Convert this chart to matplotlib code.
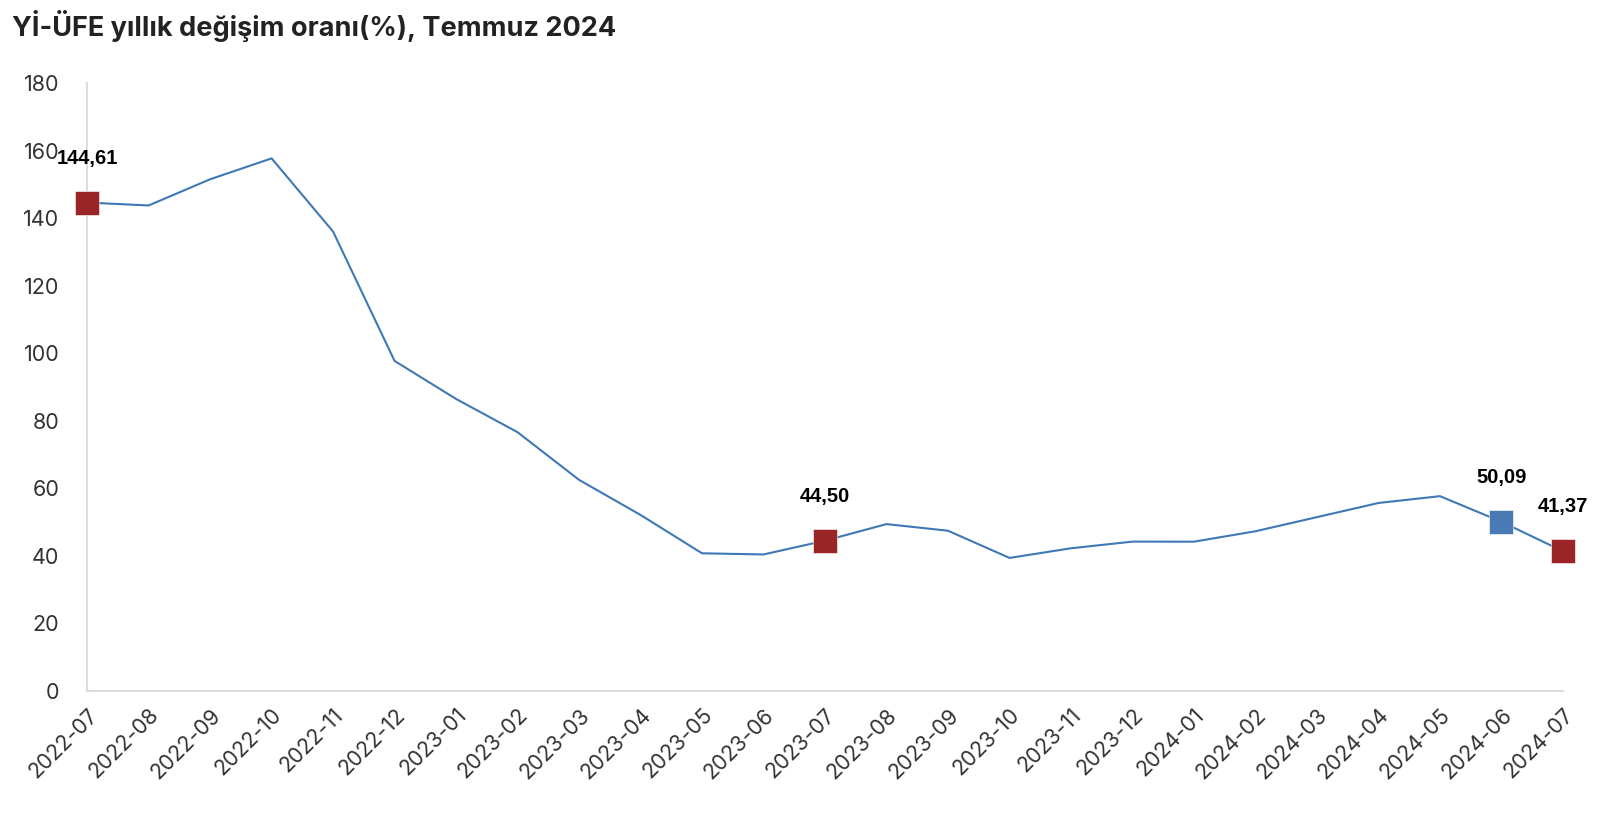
import matplotlib
matplotlib.use("Agg")
import matplotlib.pyplot as plt

months = [
    "2022-07", "2022-08", "2022-09", "2022-10", "2022-11", "2022-12",
    "2023-01", "2023-02", "2023-03", "2023-04", "2023-05", "2023-06",
    "2023-07", "2023-08", "2023-09", "2023-10", "2023-11", "2023-12",
    "2024-01", "2024-02", "2024-03", "2024-04", "2024-05", "2024-06",
    "2024-07",
]
yi_ufe = [
    144.61, 143.75, 151.50, 157.69, 136.02, 97.72,
    86.46, 76.61, 62.50, 52.11, 40.76, 40.42,
    44.50, 49.41, 47.44, 39.39, 42.25, 44.22,
    44.20, 47.29, 51.47, 55.66, 57.68, 50.09,
    41.37,
]
# highlighted points: index, colour
highlights = [(0, "#9b2526"), (12, "#9b2526"), (23, "#4a7ab3"), (24, "#9b2526")]

LINE = "#3f78b5"
GRID = "#dddddd"
TEXT = "#333333"

fig = plt.figure(figsize=(16.1, 8.18), dpi=100)
ax = fig.add_axes([0.0541, 0.1553, 0.9167, 0.7432])

x = list(range(len(months)))
ax.plot(x, yi_ufe, color=LINE, linewidth=1.5, zorder=2)

for i, color in highlights:
    ax.plot(x[i], yi_ufe[i], marker="s", markersize=17.5, color=color,
            markeredgecolor="white", markeredgewidth=0.4, zorder=3,
            clip_on=False)
    ax.annotate(f"{yi_ufe[i]:.2f}".replace(".", ","), (x[i], yi_ufe[i]),
                xytext=(0, 32), textcoords="offset points",
                ha="center", va="center", fontsize=14.5, fontweight="bold",
                family="Liberation Sans", color="black", zorder=4,
                annotation_clip=False)

ax.set_xlim(0, len(months) - 1)
ax.set_ylim(0, 180)
ax.set_yticks(range(0, 181, 20))
ax.set_xticks(x)
ax.set_xticklabels(months, rotation=45, ha="right", rotation_mode="anchor")
ax.tick_params(axis="both", length=0, labelsize=15.5, labelcolor=TEXT)
ax.tick_params(axis="y", pad=20)
ax.tick_params(axis="x", pad=10)
for lab in ax.get_xticklabels() + ax.get_yticklabels():
    lab.set_family("Inter")

for side in ("top", "right"):
    ax.spines[side].set_visible(False)
for side in ("left", "bottom"):
    ax.spines[side].set_color(GRID)
    ax.spines[side].set_linewidth(1.5)

fig.text(0.0075, 0.968, "Yİ-ÜFE yıllık değişim oranı(%), Temmuz 2024",
         fontsize=19.5, fontweight="bold", family="Inter", color="#222222",
         ha="left", va="center")

fig.savefig("out.png", dpi=100)
